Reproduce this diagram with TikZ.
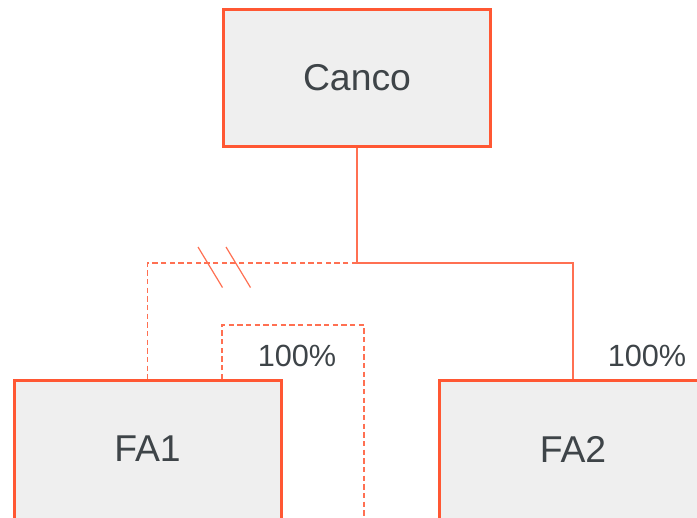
\documentclass[tikz,border=0pt]{standalone}
\usepackage{fontspec}
\setmainfont{Liberation Sans}
\usetikzlibrary{positioning}
\definecolor{boxedge}{RGB}{255,87,51}
\definecolor{boxfill}{RGB}{239,239,239}
\definecolor{linkcol}{RGB}{255,112,82}
\definecolor{inkgray}{RGB}{62,68,72}

\begin{document}
\begin{tikzpicture}[x=0.75pt, y=-0.75pt,
  entity/.style={draw=boxedge, line width=2.25pt, fill=boxfill,
              minimum width=200.25pt, minimum height=102.75pt, inner sep=0pt,
              text=inkgray, font=\fontsize{28}{33}\selectfont},
  subsid/.style={entity, minimum height=112.5pt, text depth=9.75pt},
  link/.style={draw=linkcol, line width=1pt},
  dashlink/.style={link, dash pattern=on 4pt off 2.5pt},
  breakmark/.style={draw=linkcol, line width=0.9pt},
  share/.style={text=inkgray, inner sep=0pt, font=\fontsize{23}{28}\selectfont}
]
  \clip (0,0) rectangle (697,518);
  \node[entity] (canco) at (357, 78)  {Canco};
  \node[subsid] (fa1)   at (147.5, 455.5) {FA1};
  \node[subsid] (fa2)   at (573, 455.5) {FA2};
  \coordinate (split)  at (357, 263);
  \coordinate (loopup) at (222, 325);
  \coordinate (loopend) at (364, 530);
  % ownership lines
  \draw[link] (canco.south) -- (split) -| (fa2.north);
  \draw[dashlink] (split) -| (fa1.north);
  \draw[dashlink] (fa1.north -| loopup) -- (loopup) -| (loopend);
  \foreach \bx in {198, 226}
    \draw[breakmark] (\bx, 247) -- ++(24.5, 40.5);
  \node[share] (pct1) at (297, 356) {100\%};
  \node[share] (pct2) at (647, 356) {100\%};
\end{tikzpicture}
\end{document}
